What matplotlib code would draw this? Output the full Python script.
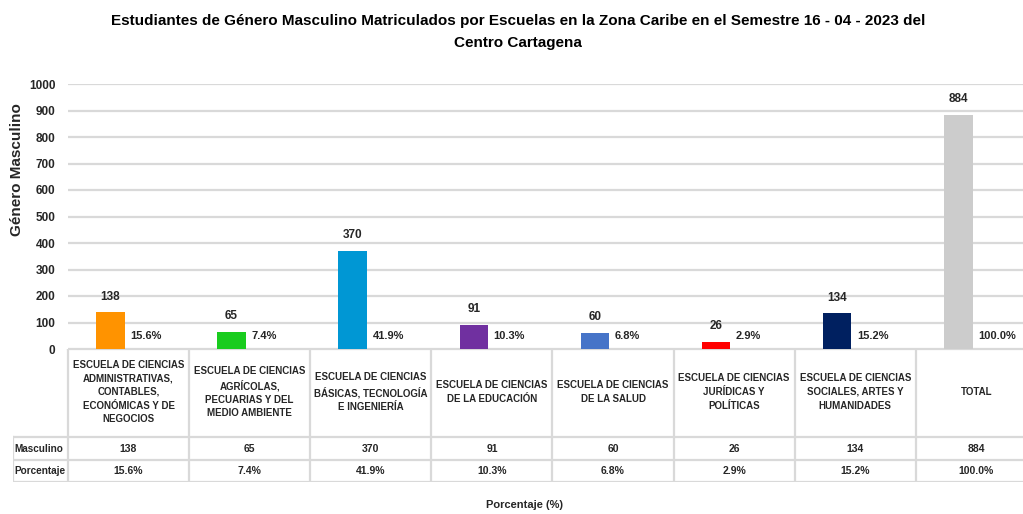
import matplotlib
matplotlib.use('Agg')
import matplotlib.pyplot as plt
from matplotlib.lines import Line2D

plt.rcParams['font.family'] = ['Liberation Sans', 'DejaVu Sans']

# datos
escuelas = ['ESCUELA DE CIENCIAS\nADMINISTRATIVAS,\nCONTABLES,\nECONÓMICAS Y DE\nNEGOCIOS',
            'ESCUELA DE CIENCIAS\nAGRÍCOLAS,\nPECUARIAS Y DEL\nMEDIO AMBIENTE',
            'ESCUELA DE CIENCIAS\nBÁSICAS, TECNOLOGÍA\nE INGENIERÍA',
            'ESCUELA DE CIENCIAS\nDE LA EDUCACIÓN',
            'ESCUELA DE CIENCIAS\nDE LA SALUD',
            'ESCUELA DE CIENCIAS\nJURÍDICAS Y\nPOLÍTICAS',
            'ESCUELA DE CIENCIAS\nSOCIALES, ARTES Y\nHUMANIDADES',
            'TOTAL']
masculino = [138, 65, 370, 91, 60, 26, 134, 884]
porcentaje = ['15.6%', '7.4%', '41.9%', '10.3%', '6.8%', '2.9%', '15.2%', '100.0%']
colores = ['#FF9300', '#19CC1E', '#0097D4', '#7030A0', '#4674C8', '#FF0000', '#002060', '#CCCCCC']

W, H = 1023, 514
txt = '#262626'
fig = plt.figure(figsize=(W / 100, H / 100), dpi=100)

# eje principal
ax = fig.add_axes([68 / W, (H - 349) / H, (1037 - 68) / W, (349 - 84) / H])
x = list(range(len(masculino)))
xb = [i - 0.15 for i in x]
bars = ax.bar(xb, masculino, width=0.235, color=colores, zorder=3)
ax.set_xlim(-0.5, len(x) - 0.5)
ax.set_ylim(0, 1000)
ax.set_yticks(range(0, 1001, 100))
ax.yaxis.grid(True, color='#D9D9D9', linewidth=1.6, zorder=0)
ax.tick_params(axis='y', length=0, pad=9, labelsize=8.5)
ax.set_xticks([])
for s in ax.spines.values():
    s.set_visible(False)
for lab in ax.get_yticklabels():
    lab.set_fontweight('bold')
    lab.set_color(txt)

for b, v, p in zip(bars, masculino, porcentaje):
    ax.annotate(str(v), (b.get_x() + b.get_width() / 2, v), xytext=(0, 7),
                textcoords='offset points', ha='center', va='bottom',
                fontsize=8.5, fontweight='bold', color=txt)
    ax.annotate(p, (b.get_x() + b.get_width(), 0), xytext=(4, 6),
                textcoords='offset points', ha='left', va='bottom',
                fontsize=8, fontweight='bold', color=txt)

# tabla de datos
tab = fig.add_axes([13 / W, (H - 482) / H, (1037 - 13) / W, 133 / H])
x0 = -0.5 - 55 / 121.25
tab.set_xlim(x0, len(x) - 0.5)
tab.set_ylim(0, 133)
tab.axis('off')
gc = '#D9D9D9'
tab.add_line(Line2D([-0.5, len(x) - 0.5], [133, 133], color=gc, lw=1.6))
for yy in [45, 22, 0]:
    tab.add_line(Line2D([x0, len(x) - 0.5], [yy, yy], color=gc, lw=1.6))
for i in range(len(x) + 1):
    tab.add_line(Line2D([i - 0.5, i - 0.5], [0, 133], color=gc, lw=1.6))
tab.add_line(Line2D([x0, x0], [0, 45], color=gc, lw=1.6))

for i, (e, v, p) in enumerate(zip(escuelas, masculino, porcentaje)):
    tab.text(i, 90, e, ha='center', va='center', fontsize=7,
             fontweight='bold', color=txt, linespacing=1.45)
    tab.text(i, 33.5, str(v), ha='center', va='center', fontsize=7.5,
             fontweight='bold', color=txt)
    tab.text(i, 11, p, ha='center', va='center', fontsize=7.5,
             fontweight='bold', color=txt)
tab.text(x0 + 0.015, 33.5, 'Masculino', ha='left', va='center', fontsize=7.2,
         fontweight='bold', color=txt)
tab.text(x0 + 0.015, 11, 'Porcentaje', ha='left', va='center', fontsize=7.2,
         fontweight='bold', color=txt)

# textos
fig.text(518 / W, 1 - 32 / H,
         'Estudiantes de Género Masculino Matriculados por Escuelas en la Zona Caribe en el Semestre 16 - 04 - 2023 del\nCentro Cartagena',
         ha='center', va='center', fontsize=11, fontweight='bold', linespacing=1.7)
fig.text(17 / W, 1 - 170 / H, 'Género Masculino', rotation=90, ha='center', va='center',
         fontsize=11, fontweight='bold', color=txt)
fig.text(525 / W, 1 - 505 / H, 'Porcentaje (%)', ha='center', va='center',
         fontsize=8, fontweight='bold', color=txt)

fig.savefig('out.png', dpi=100, facecolor='white')
